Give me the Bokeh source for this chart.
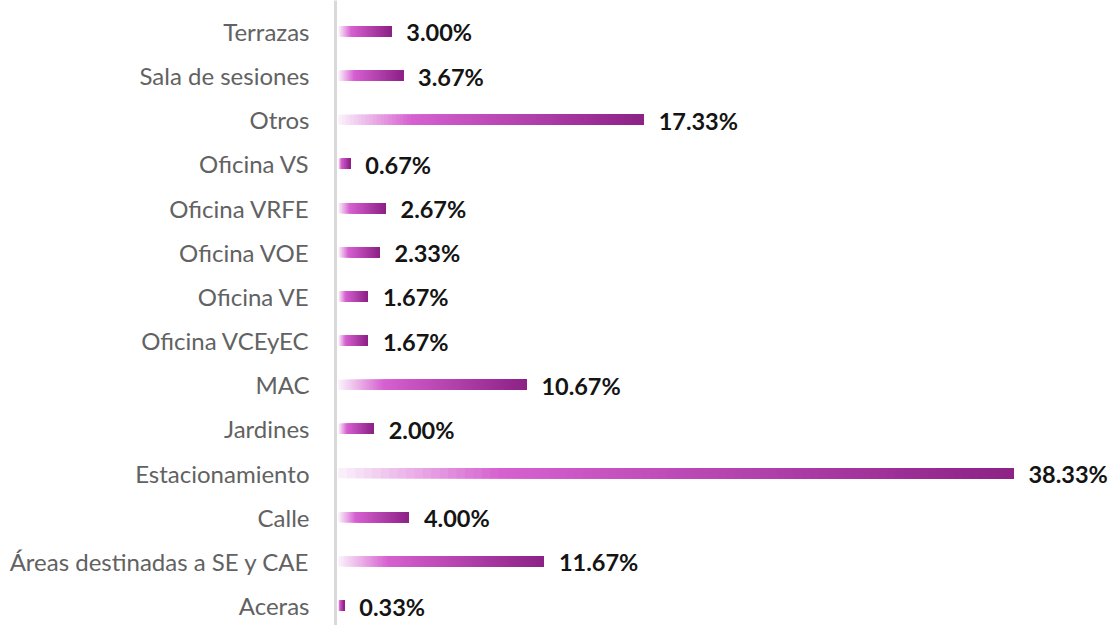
from bokeh.plotting import figure
from bokeh.models import Range1d, FixedTicker, ColumnDataSource
from bokeh.core.properties import value
from bokeh.embed import file_html
from bokeh.resources import INLINE

categories = ["Aceras", "Áreas destinadas a SE y CAE", "Calle", "Estacionamiento", "Jardines",
              "MAC", "Oficina VCEyEC", "Oficina VE", "Oficina VOE", "Oficina VRFE",
              "Oficina VS", "Otros", "Sala de sesiones", "Terrazas"]
values = [0.33, 11.67, 4.00, 38.33, 2.00, 10.67, 1.67, 1.67, 2.33, 2.67, 0.67, 17.33, 3.67, 3.00]
labels = ["%.2f%%" % v for v in values]

# gradient stops (fraction along bar, rgb)
stops = [(0.0, (251, 242, 251)), (0.24, (214, 96, 208)), (1.0, (140, 33, 134))]

def grad(t):
    for (t0, c0), (t1, c1) in zip(stops[:-1], stops[1:]):
        if t <= t1:
            f = (t - t0) / (t1 - t0)
            return "#%02x%02x%02x" % tuple(int(round(a + (b - a) * f)) for a, b in zip(c0, c1))
    return "#%02x%02x%02x" % stops[-1][1]

N = 80
left, right, bottom, top, colors = [], [], [], [], []
bh = 0.115
for i, v in enumerate(values):
    for k in range(N):
        left.append(v * k / N)
        right.append(v)
        bottom.append(i - bh)
        top.append(i + bh)
        colors.append(grad((k + 0.5) / N))

p = figure(width=1117, height=625, output_backend="svg", toolbar_location=None,
           x_range=Range1d(-0.17, 44.24), y_range=Range1d(-0.45, 13.70),
           min_border_left=335, min_border_right=0, min_border_top=0, min_border_bottom=0)

p.quad(left=left, right=right, bottom=bottom, top=top, fill_color=colors, line_color=None)

src = ColumnDataSource(dict(x=values, y=list(range(len(values))), t=labels))
p.text(x="x", y="y", text="t", source=src, x_offset=15, y_offset=1, text_baseline="middle",
       text_align="left", text_font=value("Lato"), text_font_style="bold",
       text_font_size="23.5px", text_color="#141414")

p.xaxis.visible = False
p.xgrid.visible = False
p.ygrid.visible = False
p.outline_line_color = None

ax = p.yaxis[0]
ax.ticker = FixedTicker(ticks=list(range(len(categories))))
ax.major_label_overrides = {i: c for i, c in enumerate(categories)}
ax.major_tick_line_color = None
ax.minor_tick_line_color = None
ax.axis_line_color = "#d9d9d9"
ax.axis_line_width = 3
ax.major_label_text_font = "Lato"
ax.major_label_text_font_size = "24px"
ax.major_label_text_color = "#626262"
ax.major_label_standoff = 20

open("out.html", "w").write(file_html(p, INLINE))
